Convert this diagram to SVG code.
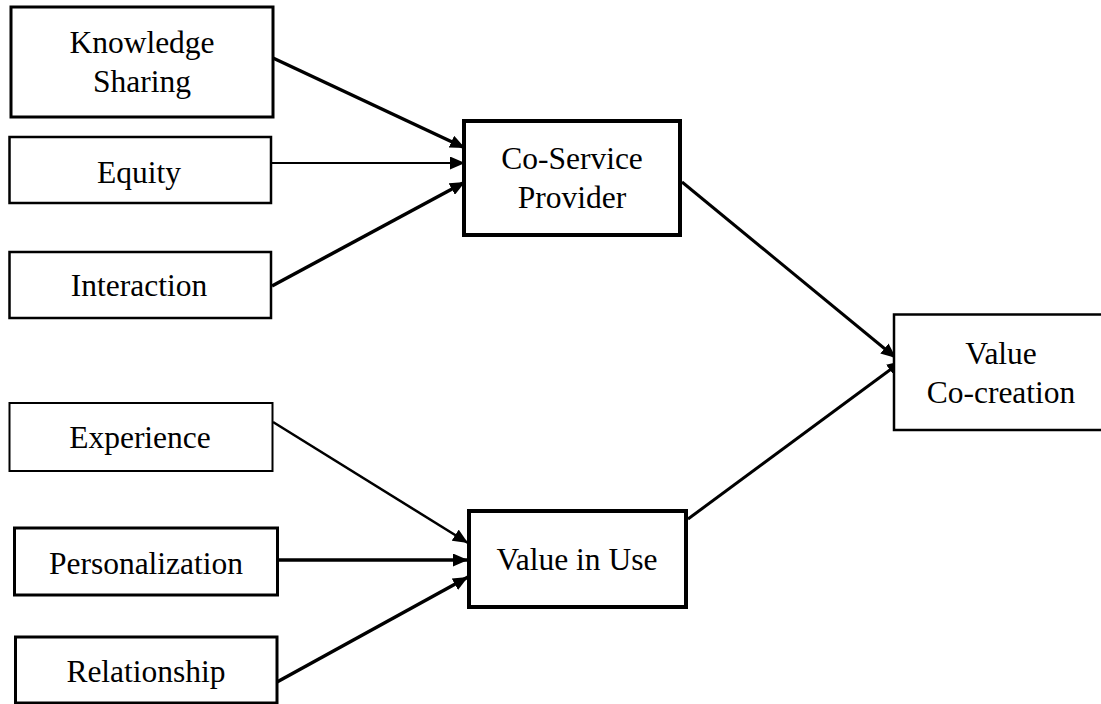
<svg xmlns="http://www.w3.org/2000/svg" width="1101" height="704" viewBox="0 0 1101 704">
  <style>
    .box { fill: #fff; stroke: #000; }
    .lbl { font-family: "Liberation Serif", "Times New Roman", serif; font-size: 31.5px; fill: #000; text-anchor: middle; }
    .edge { stroke: #000; fill: none; marker-end: url(#arrow); }
  </style>
  <defs>
    <marker id="arrow" markerUnits="userSpaceOnUse" viewBox="0 0 15 13" refX="15" refY="6.5" markerWidth="15" markerHeight="13" orient="auto">
      <path d="M0,0 L15,6.5 L0,13 z" fill="#000"/>
    </marker>
  </defs>
  <rect width="1101" height="704" fill="#fff"/>

  <g id="connectors">
    <line class="edge" x1="273" y1="58" x2="465" y2="148" stroke-width="3.5"/>
    <line class="edge" x1="271" y1="163" x2="465" y2="163" stroke-width="2"/>
    <line class="edge" x1="272" y1="286" x2="465" y2="182" stroke-width="3.5"/>
    <line class="edge" x1="682" y1="182" x2="896" y2="358" stroke-width="3"/>
    <line class="edge" x1="273" y1="422" x2="468" y2="543" stroke-width="2.5"/>
    <line class="edge" x1="278" y1="560" x2="468" y2="560" stroke-width="3.5"/>
    <line class="edge" x1="277" y1="682" x2="468" y2="577" stroke-width="3.5"/>
    <line class="edge" x1="688" y1="519" x2="902" y2="361" stroke-width="3"/>
  </g>

  <g id="knowledge-sharing">
    <rect class="box" x="11" y="7" width="262" height="110" stroke-width="3"/>
    <text class="lbl" x="142" y="53">Knowledge</text>
    <text class="lbl" x="142" y="92">Sharing</text>
  </g>
  <g id="equity">
    <rect class="box" x="9.5" y="137" width="261.5" height="66" stroke-width="2.5"/>
    <text class="lbl" x="139" y="183">Equity</text>
  </g>
  <g id="interaction">
    <rect class="box" x="9.5" y="252" width="261.5" height="66" stroke-width="2.5"/>
    <text class="lbl" x="139" y="296">Interaction</text>
  </g>
  <g id="co-service-provider">
    <rect class="box" x="464" y="121" width="216" height="114" stroke-width="4"/>
    <text class="lbl" x="572" y="169">Co-Service</text>
    <text class="lbl" x="572" y="208">Provider</text>
  </g>
  <g id="experience">
    <rect class="box" x="9.5" y="403" width="263" height="68" stroke-width="2"/>
    <text class="lbl" x="140" y="448">Experience</text>
  </g>
  <g id="personalization">
    <rect class="box" x="14.5" y="528" width="263" height="67" stroke-width="3"/>
    <text class="lbl" x="146" y="574">Personalization</text>
  </g>
  <g id="relationship">
    <rect class="box" x="15.5" y="637" width="261.5" height="66" stroke-width="3"/>
    <text class="lbl" x="146" y="682">Relationship</text>
  </g>
  <g id="value-in-use">
    <rect class="box" x="469" y="511" width="217" height="96" stroke-width="4"/>
    <text class="lbl" x="577" y="570">Value in Use</text>
  </g>
  <g id="value-co-creation">
    <rect class="box" x="894" y="314.5" width="220" height="115.5" stroke-width="2.5"/>
    <text class="lbl" x="1001" y="364">Value</text>
    <text class="lbl" x="1001" y="403">Co-creation</text>
  </g>
</svg>
